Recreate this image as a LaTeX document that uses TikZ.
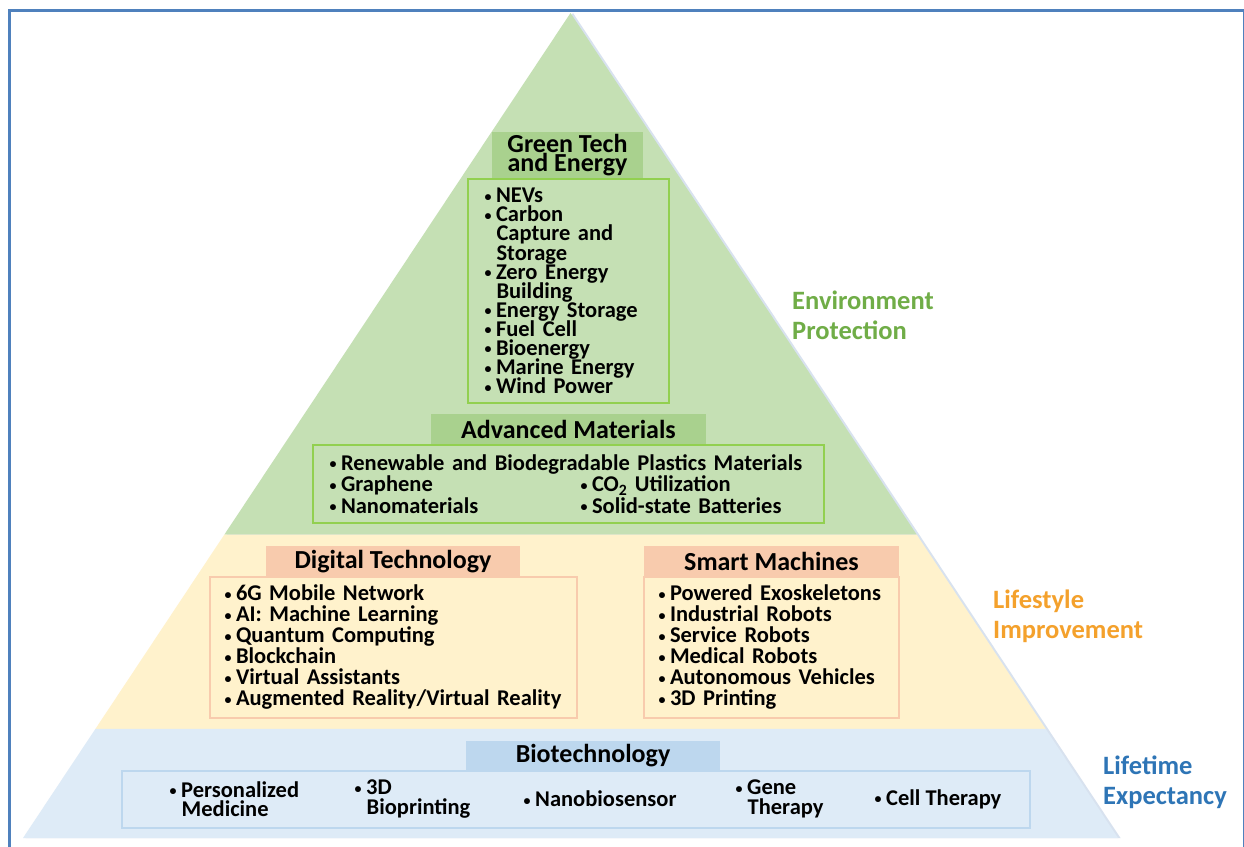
\documentclass[tikz,border=0pt]{standalone}
\usepackage{fontspec}
\usepackage{graphicx}
\setmainfont{Carlito}
\usetikzlibrary{calc}

\definecolor{framec}{HTML}{4F81BD}
\definecolor{shadowc}{HTML}{D8E2EF}
\definecolor{grnband}{HTML}{C5E0B4}
\definecolor{grnhead}{HTML}{A9D18E}
\definecolor{grnline}{HTML}{92D050}
\definecolor{ylwband}{HTML}{FFF2CC}
\definecolor{orghead}{HTML}{F8CBAD}
\definecolor{orgline}{HTML}{F8CBAD}
\definecolor{bluband}{HTML}{DEEBF7}
\definecolor{bluhead}{HTML}{BDD7EE}
\definecolor{bluline}{HTML}{BDD7EE}
\definecolor{envtext}{HTML}{70AD47}
\definecolor{lifetext}{HTML}{F4A12C}
\definecolor{exptext}{HTML}{2E75B6}

% small bullet followed by a fixed gap, and the matching hanging indent
\newcommand\bu{\makebox[12pt][l]{\hspace{0.5pt}\raisebox{1.6pt}{\fontsize{14}{14}\selectfont •}}}
\newcommand\ind{\hspace*{12.5pt}}
% font with tight leading that never falls back to \lineskip
\newcommand\tightfont[2]{\bfseries\fontsize{#1}{#2}\selectfont\lineskiplimit=-\maxdimen}

\begin{document}
\begin{tikzpicture}[x=1pt,y=-1pt,
  every node/.style={inner sep=0pt},
  hdr/.style={font=\tightfont{26}{19}, align=center},
  listbox/.style={line width=2pt, align=left, inner ysep=0pt, font=\tightfont{22.5}{21}},
  gbox/.style={listbox, draw=grnline, fill=grnband},
  obox/.style={listbox, draw=orgline, fill=ylwband},
  bbox/.style={listbox, draw=bluline, fill=bluband},
  bioitem/.style={anchor=west, align=left, font=\tightfont{22.5}{19.5}},
  sidelabel/.style={anchor=west, align=left, font=\tightfont{26.5}{30}}
]
\useasboundingbox (0,0) rectangle (1244,846);
\clip (0,0) rectangle (1244,846);
\fill[white] (0,0) rectangle (1244,846);

% outer frame
\draw[framec, line width=3.5pt] (9.5,10.5) rectangle (1244.6,900);

% pyramid
\coordinate (apex) at (570.5,13);
\coordinate (bl) at (23,838);
\coordinate (br) at (1118,838);
\fill[shadowc] ($(apex)+(2.5,0)$) -- ($(bl)+(2.5,0)$) -- ($(br)+(2.5,0)$) -- cycle;
\fill[grnband] (apex) -- ($(apex)!0.6323!(bl)$) -- ($(apex)!0.6323!(br)$) -- cycle;
\fill[ylwband] ($(apex)!0.6323!(bl)$) -- ($(apex)!0.8677!(bl)$)
  -- ($(apex)!0.8677!(br)$) -- ($(apex)!0.6323!(br)$) -- cycle;
\fill[bluband] ($(apex)!0.8677!(bl)$) -- (bl) -- (br) -- ($(apex)!0.8677!(br)$) -- cycle;

% headers
\node[hdr, fill=grnhead, minimum width=151pt, minimum height=47pt] (gthead) at (567.5,155) {Green Tech\\and Energy};
\node[hdr, fill=grnhead, minimum width=275pt, minimum height=31pt] (amhead) at (568.5,429.5) {Advanced Materials};
\node[hdr, fill=orghead, minimum width=254pt, minimum height=31pt] (dthead) at (393,561.5) {Digital Technology};
\node[hdr, fill=orghead, minimum width=255pt, minimum height=31pt] (smhead) at (771.5,561.5) {Smart Machines};
\node[hdr, fill=bluhead, minimum width=254pt, minimum height=30pt] (bthead) at (593,756) {Biotechnology};

% item boxes
\node[gbox, text width=169pt, inner xsep=16pt, minimum height=224pt,
  font=\tightfont{22.5}{19.1}] (gtlist) at (568.5,291)
  {\bu NEVs\\\bu Carbon\\\ind Capture and\\\ind Storage\\\bu Zero Energy\\\ind Building\\\bu Energy Storage\\\bu Fuel Cell\\\bu Bioenergy\\\bu Marine Energy\\\bu Wind Power};
\node[gbox, text width=479pt, inner xsep=16pt, minimum height=78pt,
  font=\tightfont{22.5}{21.5}] (amlist) at (568.5,484)
  {\mbox{\bu Renewable and Biodegradable Plastics Materials}\\
   \makebox[251pt][l]{\bu Graphene}\bu CO\textsubscript{2} Utilization\\
   \makebox[251pt][l]{\bu Nanomaterials}\bu Solid-state Batteries};
\node[obox, text width=339pt, inner xsep=14pt, minimum height=141pt] (dtlist) at (393.5,647.5)
  {\bu 6G Mobile Network\\\bu AI: Machine Learning\\\bu Quantum Computing\\\bu Blockchain\\\bu Virtual Assistants\\\mbox{\bu Augmented Reality/Virtual Reality}};
\node[obox, text width=227pt, inner xsep=14pt, minimum height=141pt] (smlist) at (771.5,647.5)
  {\bu Powered Exoskeletons\\\bu Industrial Robots\\\bu Service Robots\\\bu Medical Robots\\\bu Autonomous Vehicles\\\bu 3D Printing};
\node[bbox, minimum width=908pt, minimum height=57pt] (btlist) at (576,799.5) {};

% biotechnology items
\node[bioitem] (bt1) at (169,799) {\bu Personalized\\\ind Medicine};
\node[bioitem] (bt2) at (354,799) {\bu 3D\\\ind Bioprinting};
\node[bioitem] (bt3) at (523,799) {\bu Nanobiosensor};
\node[bioitem] (bt4) at (735,799) {\bu Gene\\\ind Therapy};
\node[bioitem] (bt5) at (874,799) {\bu Cell Therapy};

% side labels
\node[sidelabel, text=envtext] (env) at (792,315) {Environment\\Protection};
\node[sidelabel, text=lifetext] (life) at (993,616) {Lifestyle\\Improvement};
\node[sidelabel, text=exptext] (expect) at (1103,782) {Lifetime\\Expectancy};
\end{tikzpicture}
\end{document}
